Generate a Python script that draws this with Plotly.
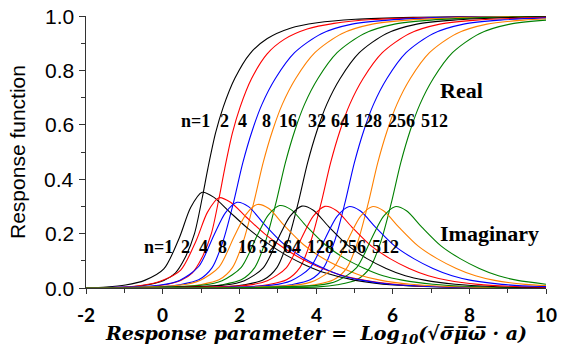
import plotly.graph_objects as go

# ---------------- data ----------------
n_values = ["n=1", "2", "4", "8", "16", "32", "64", "128", "256", "512"]
colors = ["black", "red", "blue", "rgb(255,128,0)", "rgb(0,128,0)",
          "black", "red", "blue", "rgb(255,128,0)", "rgb(0,128,0)"]

# Real part curves
real_n1_x = [-2.0, -0.97, -0.47, 0.03, 0.33, 0.58, 0.83, 1.03, 1.18, 1.38, 1.58, 1.88, 2.28, 2.73, 3.33, 4.03, 5.03, 6.53, 10.0]
real_n1_y = [0.0, 0.003, 0.01, 0.028, 0.055, 0.11, 0.2, 0.33, 0.44, 0.57, 0.665, 0.77, 0.862, 0.917, 0.955, 0.975, 0.988, 0.995, 1.0]
real_n2_x = [-2.0, -0.53, -0.03, 0.47, 0.77, 1.02, 1.27, 1.47, 1.62, 1.82, 2.02, 2.32, 2.72, 3.17, 3.77, 4.47, 5.47, 6.97, 10.0]
real_n2_y = [0.0, 0.003, 0.01, 0.028, 0.055, 0.11, 0.2, 0.33, 0.44, 0.57, 0.665, 0.77, 0.86, 0.914, 0.952, 0.973, 0.987, 0.994, 0.999]
real_n4_x = [-2.0, -0.06, 0.44, 0.94, 1.29, 1.57, 1.84, 2.09, 2.34, 2.59, 2.94, 3.44, 4.14, 4.94, 5.89, 7.44, 10.0]
real_n4_y = [0.0, 0.004, 0.012, 0.03, 0.075, 0.17, 0.31, 0.46, 0.58, 0.675, 0.77, 0.865, 0.935, 0.97, 0.985, 0.995, 1.0]
real_n8_x = [-2.0, 0.47, 0.97, 1.47, 1.82, 2.10, 2.37, 2.62, 2.87, 3.12, 3.47, 3.97, 4.67, 5.47, 6.42, 7.97, 10.0]
real_n8_y = [0.0, 0.004, 0.012, 0.03, 0.075, 0.17, 0.31, 0.46, 0.58, 0.675, 0.77, 0.865, 0.935, 0.97, 0.985, 0.995, 0.999]
real_n16_x = [-2.0, 1.05, 1.55, 2.05, 2.40, 2.68, 2.95, 3.20, 3.45, 3.70, 4.05, 4.55, 5.25, 6.05, 7.00, 8.55, 10.0]
real_n16_y = [0.0, 0.004, 0.012, 0.03, 0.075, 0.17, 0.31, 0.46, 0.58, 0.675, 0.77, 0.865, 0.935, 0.97, 0.985, 0.995, 0.998]
real_n32_x = [-2.0, 1.63, 2.13, 2.63, 2.98, 3.26, 3.53, 3.78, 4.03, 4.28, 4.63, 5.13, 5.83, 6.63, 7.58, 9.13, 10.0]
real_n32_y = [0.0, 0.004, 0.012, 0.03, 0.075, 0.17, 0.31, 0.46, 0.58, 0.675, 0.77, 0.865, 0.935, 0.97, 0.985, 0.995, 0.997]
real_n64_x = [-2.0, 2.23, 2.73, 3.23, 3.58, 3.86, 4.13, 4.38, 4.63, 4.88, 5.23, 5.73, 6.43, 7.23, 8.18, 10.0]
real_n64_y = [0.0, 0.004, 0.012, 0.03, 0.075, 0.17, 0.31, 0.46, 0.58, 0.675, 0.77, 0.865, 0.935, 0.97, 0.985, 0.995]
real_n128_x = [-2.0, 2.85, 3.35, 3.85, 4.20, 4.48, 4.75, 5.00, 5.25, 5.50, 5.85, 6.35, 7.05, 7.85, 8.80, 10.0]
real_n128_y = [0.0, 0.004, 0.012, 0.03, 0.075, 0.17, 0.31, 0.46, 0.58, 0.675, 0.77, 0.865, 0.935, 0.97, 0.985, 0.993]
real_n256_x = [-2.0, 3.46, 3.96, 4.46, 4.81, 5.09, 5.36, 5.61, 5.86, 6.11, 6.46, 6.96, 7.66, 8.46, 9.41, 10.0]
real_n256_y = [0.0, 0.004, 0.012, 0.03, 0.075, 0.17, 0.31, 0.46, 0.58, 0.675, 0.77, 0.865, 0.935, 0.97, 0.985, 0.99]
real_n512_x = [-2.0, 4.06, 4.56, 5.06, 5.41, 5.69, 5.96, 6.21, 6.46, 6.71, 7.06, 7.56, 8.26, 9.06, 10.0]
real_n512_y = [0.0, 0.004, 0.012, 0.03, 0.075, 0.17, 0.31, 0.46, 0.58, 0.675, 0.77, 0.865, 0.935, 0.97, 0.985]

# Imaginary part curves
imag_n1_x = [-2.0, -1.47, -0.97, -0.47, 0.03, 0.43, 0.73, 1.03, 1.33, 1.73, 2.23, 2.73, 3.23, 3.73, 4.23, 5.03, 6.03, 7.53, 10.0]
imag_n1_y = [0.0, 0.0035, 0.011, 0.028, 0.07, 0.183, 0.296, 0.352, 0.334, 0.282, 0.218, 0.165, 0.12, 0.084, 0.056, 0.028, 0.011, 0.003, 0.0005]
imag_n2_x = [-2.0, -1.03, -0.53, -0.03, 0.47, 0.87, 1.17, 1.47, 1.77, 2.17, 2.67, 3.17, 3.67, 4.17, 4.67, 5.47, 6.47, 7.97, 10.0]
imag_n2_y = [0.0, 0.0033, 0.01, 0.027, 0.066, 0.173, 0.279, 0.332, 0.315, 0.262, 0.198, 0.146, 0.104, 0.072, 0.047, 0.024, 0.009, 0.003, 0.0005]
imag_n4_x = [-2.0, -0.06, 0.44, 0.94, 1.34, 1.64, 1.94, 2.24, 2.64, 3.14, 3.64, 4.14, 4.64, 5.14, 5.94, 6.94, 7.94, 10.0]
imag_n4_y = [0.0, 0.011, 0.028, 0.079, 0.195, 0.277, 0.315, 0.299, 0.236, 0.164, 0.113, 0.076, 0.047, 0.03, 0.014, 0.006, 0.002, 0.0003]
imag_n8_x = [-2.0, 0.47, 0.97, 1.47, 1.87, 2.17, 2.47, 2.77, 3.17, 3.67, 4.17, 4.67, 5.17, 5.67, 6.47, 7.47, 8.47, 10.0]
imag_n8_y = [0.0, 0.011, 0.028, 0.077, 0.19, 0.27, 0.307, 0.292, 0.23, 0.16, 0.11, 0.074, 0.046, 0.029, 0.014, 0.0055, 0.002, 0.0005]
imag_n16_x = [-2.0, 1.05, 1.55, 2.05, 2.45, 2.75, 3.05, 3.35, 3.75, 4.25, 4.75, 5.25, 5.75, 6.25, 7.05, 8.05, 9.05, 10.0]
imag_n16_y = [0.0, 0.011, 0.027, 0.076, 0.188, 0.267, 0.303, 0.288, 0.227, 0.158, 0.109, 0.073, 0.045, 0.029, 0.014, 0.0055, 0.002, 0.001]
imag_n32_x = [-2.0, 1.63, 2.13, 2.63, 3.03, 3.33, 3.63, 3.93, 4.33, 4.83, 5.33, 5.83, 6.33, 6.83, 7.63, 8.63, 9.63, 10.0]
imag_n32_y = [0.0, 0.011, 0.027, 0.075, 0.187, 0.265, 0.301, 0.286, 0.226, 0.157, 0.108, 0.072, 0.045, 0.029, 0.014, 0.0054, 0.002, 0.0015]
imag_n64_x = [-2.0, 2.23, 2.73, 3.23, 3.63, 3.93, 4.23, 4.53, 4.93, 5.43, 5.93, 6.43, 6.93, 7.43, 8.23, 9.23, 10.0]
imag_n64_y = [0.0, 0.0105, 0.027, 0.075, 0.186, 0.264, 0.300, 0.285, 0.225, 0.156, 0.108, 0.072, 0.045, 0.0285, 0.0135, 0.0054, 0.0028]
imag_n128_x = [-2.0, 2.85, 3.35, 3.85, 4.25, 4.55, 4.85, 5.15, 5.55, 6.05, 6.55, 7.05, 7.55, 8.05, 8.85, 9.85, 10.0]
imag_n128_y = [0.0, 0.0105, 0.027, 0.075, 0.185, 0.263, 0.299, 0.284, 0.224, 0.155, 0.108, 0.072, 0.045, 0.028, 0.0135, 0.0054, 0.005]
imag_n256_x = [-2.0, 3.46, 3.96, 4.46, 4.86, 5.16, 5.46, 5.76, 6.16, 6.66, 7.16, 7.66, 8.16, 8.66, 9.46, 10.0]
imag_n256_y = [0.0, 0.0105, 0.027, 0.075, 0.185, 0.263, 0.299, 0.284, 0.224, 0.155, 0.108, 0.072, 0.045, 0.028, 0.0135, 0.009]
imag_n512_x = [-2.0, 4.06, 4.56, 5.06, 5.46, 5.76, 6.06, 6.36, 6.76, 7.26, 7.76, 8.26, 8.76, 9.26, 10.0]
imag_n512_y = [0.0, 0.0105, 0.027, 0.075, 0.185, 0.263, 0.299, 0.284, 0.224, 0.155, 0.108, 0.072, 0.045, 0.028, 0.014]

x_tick_vals = [-2, 0, 2, 4, 6, 8, 10]
x_tick_text = ["-2", "0", "2", "4", "6", "8", "10"]
y_tick_vals = [0.0, 0.2, 0.4, 0.6, 0.8, 1.0]
y_tick_text = ["0.0", "0.2", "0.4", "0.6", "0.8", "1.0"]

# label anchor positions (layout, data coordinates)
real_label_x = [0.86, 1.62, 2.08, 2.70, 3.27, 4.03, 4.63, 5.38, 6.24, 7.08]
real_label_y = 0.613
imag_label_x = [-0.10, 0.60, 1.07, 1.57, 2.20, 2.75, 3.38, 4.11, 4.95, 5.81]
imag_label_y = 0.149

real_curves = [(real_n1_x, real_n1_y), (real_n2_x, real_n2_y), (real_n4_x, real_n4_y),
               (real_n8_x, real_n8_y), (real_n16_x, real_n16_y), (real_n32_x, real_n32_y),
               (real_n64_x, real_n64_y), (real_n128_x, real_n128_y), (real_n256_x, real_n256_y),
               (real_n512_x, real_n512_y)]
imag_curves = [(imag_n1_x, imag_n1_y), (imag_n2_x, imag_n2_y), (imag_n4_x, imag_n4_y),
               (imag_n8_x, imag_n8_y), (imag_n16_x, imag_n16_y), (imag_n32_x, imag_n32_y),
               (imag_n64_x, imag_n64_y), (imag_n128_x, imag_n128_y), (imag_n256_x, imag_n256_y),
               (imag_n512_x, imag_n512_y)]

fig = go.Figure()
for i, (xs, ys) in enumerate(real_curves):
    fig.add_trace(go.Scatter(x=xs, y=ys, mode="lines", name="Real " + n_values[i],
                             line=dict(color=colors[i], width=1.1, shape="spline", smoothing=0.8),
                             showlegend=False))
for i, (xs, ys) in enumerate(imag_curves):
    fig.add_trace(go.Scatter(x=xs, y=ys, mode="lines", name="Imaginary " + n_values[i],
                             line=dict(color=colors[i], width=1.1, shape="spline", smoothing=0.8),
                             showlegend=False))

label_font = dict(family="Liberation Serif", size=18, color="black")
for i, lab in enumerate(n_values):
    fig.add_annotation(x=real_label_x[i], y=real_label_y, text="<b>" + lab + "</b>",
                       showarrow=False, font=label_font, xanchor="center", yanchor="middle")
    fig.add_annotation(x=imag_label_x[i], y=imag_label_y, text="<b>" + lab + "</b>",
                       showarrow=False, font=label_font, xanchor="center", yanchor="middle")

fig.add_annotation(x=7.80, y=0.727, text="<b>Real</b>", showarrow=False,
                   font=dict(family="Liberation Serif", size=22, color="black"))
fig.add_annotation(x=8.52, y=0.201, text="<b>Imaginary</b>", showarrow=False,
                   font=dict(family="Liberation Serif", size=22, color="black"))

# tick labels (placed as text next to the axes)
for v, t in zip(x_tick_vals, x_tick_text):
    fig.add_annotation(x=v, xref="x", y=-0.098, yref="paper", text="<b>" + t + "</b>",
                       showarrow=False, xanchor="center", yanchor="middle", borderpad=0,
                       font=dict(family="Lato", size=19, color="black"))
for v, t in zip(y_tick_vals, y_tick_text):
    fig.add_annotation(x=-0.022, xref="paper", y=v, yref="y", text=t,
                       showarrow=False, xanchor="right", yanchor="middle",
                       font=dict(family="Liberation Sans", size=21, color="black"))

# axis titles
x_title = "<b><i>Response parameter =  Log<sub>10</sub>(√σ\u0305μ\u0305ω\u0305 · a)</i></b>"
fig.add_annotation(xref="paper", yref="paper", x=0.5, y=-0.172, xanchor="center", yanchor="middle",
                   text=x_title, showarrow=False, borderpad=0,
                   font=dict(family="DejaVu Serif", size=19, color="black"))
fig.add_annotation(xref="paper", yref="paper", x=-0.15, y=0.5, xanchor="center", yanchor="middle",
                   text="Response function", textangle=-90, showarrow=False,
                   font=dict(family="Liberation Sans", size=21, color="black"))

fig.update_layout(
    width=562, height=357,
    margin=dict(l=86, r=16, t=16, b=69),
    paper_bgcolor="white", plot_bgcolor="white",
    xaxis=dict(
        range=[-2, 10], tickvals=x_tick_vals, ticks="outside", ticklen=5, tickwidth=1,
        tickcolor="#333", showline=True, linecolor="#333", linewidth=1,
        showgrid=False, zeroline=False, automargin=False, showticklabels=False,
        minor=dict(dtick=1, ticks="outside", ticklen=4, tickcolor="#333", showgrid=False),
    ),
    yaxis=dict(
        range=[0, 1.0], tickvals=y_tick_vals, ticks="outside", ticklen=6,
        tickwidth=1, tickcolor="#333", showline=True, linecolor="#333", linewidth=1,
        showgrid=False, zeroline=False, automargin=False, showticklabels=False,
        minor=dict(dtick=0.1, ticks="outside", ticklen=4, tickcolor="#333", showgrid=False),
    ),
)

fig.write_html("out.html", config={"displayModeBar": False},
               post_script="document.body.style.margin='0';")
